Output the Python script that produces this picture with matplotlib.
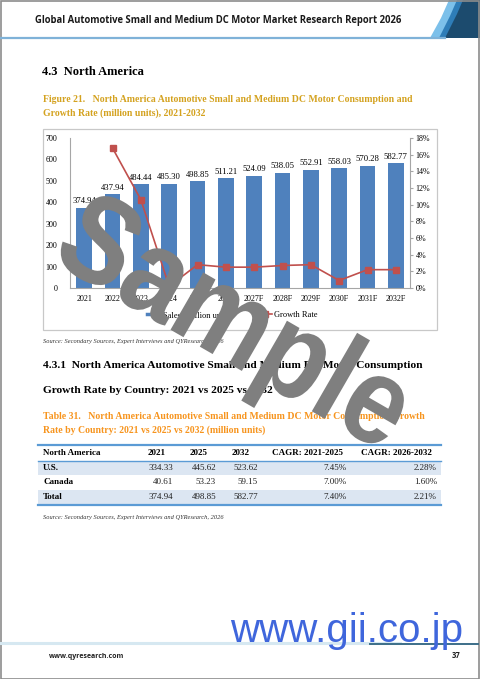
import matplotlib as mpl
mpl.use("Agg")
import matplotlib.pyplot as plt
from matplotlib.patches import Rectangle, Polygon, PathPatch
from matplotlib.lines import Line2D
from matplotlib.ticker import FuncFormatter
from matplotlib.textpath import TextPath
from matplotlib.font_manager import FontProperties
from matplotlib.transforms import Affine2D
import numpy as np

# =============================================================================
# 0) Data
# =============================================================================
years = ["2021", "2022", "2023", "2024", "2025", "2026",
         "2027F", "2028F", "2029F", "2030F", "2031F", "2032F"]
sales = [374.94, 437.94, 484.44, 485.30, 498.85, 511.21,
         524.09, 538.05, 552.91, 558.03, 570.28, 582.77]
growth = [np.nan, 16.8, 10.6, 0.2, 2.8, 2.5, 2.5, 2.7, 2.8, 0.9, 2.2, 2.2]

tbl_cols = ["North America", "2021", "2025", "2032", "CAGR: 2021-2025", "CAGR: 2026-2032"]
tbl_rows = ["U.S.", "Canada", "Total"]
tbl_2021 = ["334.33", "40.61", "374.94"]
tbl_2025 = ["445.62", "53.23", "498.85"]
tbl_2032 = ["523.62", "59.15", "582.77"]
tbl_cagr1 = ["7.45%", "7.00%", "7.40%"]
tbl_cagr2 = ["2.28%", "1.60%", "2.21%"]

# =============================================================================
# 1) Style
# =============================================================================
W, H = 480, 679
SERIF = "Liberation Serif"
BAR_COLOR = "#4F81BD"
LINE_COLOR = "#C0504D"
GOLD = "#D4A21F"
ORANGE = "#F7941D"
TBL_BLUE = "#5B9BD5"
TBL_FILL = "#DCE6F2"

fig = plt.figure(figsize=(W / 100, H / 100), dpi=100)


def fx(x):
    return x / W


def fy(y):
    return 1 - y / H


def txt(x, y, s, **kw):
    kw.setdefault("va", "center")
    return fig.text(fx(x), fy(y), s, **kw)


def hline(x0, x1, y, **kw):
    fig.add_artist(Line2D([fx(x0), fx(x1)], [fy(y), fy(y)], transform=fig.transFigure, **kw))


def rect(x0, y0, x1, y1, **kw):
    fig.add_artist(Rectangle((fx(x0), fy(y1)), fx(x1) - fx(x0), fy(y0) - fy(y1),
                             transform=fig.transFigure, **kw))


def poly(pts, **kw):
    fig.add_artist(Polygon([(fx(a), fy(b)) for a, b in pts], closed=True,
                           transform=fig.transFigure, **kw))


# =============================================================================
# 2) Page header / footer
# =============================================================================
txt(35, 21, "Global Automotive Small and Medium DC Motor Market Research Report 2026",
    family="Open Sans", weight="bold", fontsize=6.85, color="#1a1a1a")
hline(0, 445, 38, color="#7FB2D8", lw=1.6)
poly([(430, 38), (441, 18), (449, 0), (480, 0), (480, 38)], color="#7CC0EA", lw=0)
poly([(439, 38), (450, 16), (457, 0), (480, 0), (480, 38)], color="#2E7DB8", lw=0)
poly([(445, 38), (457, 14), (463, 0), (480, 0), (480, 38)], color="#1C4B6E", lw=0)

hline(0, 400, 643, color="#D6E8F1", lw=2.2)
hline(370, 478, 643.5, color="#3C6E88", lw=1.4)
txt(49, 657, "www.qyresearch.com", family="Open Sans", weight="bold", fontsize=5.0, color="#222222")
txt(452, 656, "37", family="Open Sans", weight="bold", fontsize=5.5, color="#222222")

# headings and captions
txt(42, 72, "4.3  North America", family=SERIF, weight="bold", fontsize=9.0)
txt(43, 99, "Figure 21.   North America Automotive Small and Medium DC Motor Consumption and",
    family=SERIF, weight="bold", fontsize=7.0, color=GOLD)
txt(43, 113, "Growth Rate (million units), 2021-2032",
    family=SERIF, weight="bold", fontsize=7.0, color=GOLD)

# =============================================================================
# 3) Chart
# =============================================================================
rect(43, 129, 437, 330, fill=False, edgecolor="#C8C8C8", lw=0.9)

ax = fig.add_axes([fx(70), fy(288), fx(410) - fx(70), fy(138) - fy(288)])
x = np.arange(len(years))
ax.bar(x, sales, width=0.56, color=BAR_COLOR, zorder=2)
for xi, v in zip(x, sales):
    ax.text(xi, v + 12, f"{v:.2f}", ha="center", va="bottom", family=SERIF, fontsize=6.2)

ax.set_xlim(-0.5, len(years) - 0.5)
ax.set_ylim(0, 700)
ax.set_yticks(range(0, 701, 100))
ax.set_xticks(x)
ax.set_xticklabels(years)
ax.tick_params(axis="x", length=0, pad=5, labelsize=5.8)
ax.tick_params(axis="y", length=0, pad=9, labelsize=5.8)
for lab in ax.get_xticklabels() + ax.get_yticklabels():
    lab.set_family(SERIF)
for s in ["top", "right"]:
    ax.spines[s].set_visible(False)
ax.spines["left"].set_color("#A6A6A6")
ax.spines["bottom"].set_color("#A6A6A6")
ax.spines["left"].set_linewidth(0.8)
ax.spines["bottom"].set_linewidth(0.8)

ax2 = ax.twinx()
ax2.plot(x, growth, color=LINE_COLOR, lw=1.2, marker="s", markersize=4.2, zorder=4)
ax2.set_ylim(0, 18)
ax2.set_yticks(range(0, 19, 2))
ax2.yaxis.set_major_formatter(FuncFormatter(lambda v, p: f"{int(v)}%"))
ax2.tick_params(axis="y", length=2, pad=2, labelsize=5.8, color="#A6A6A6")
for lab in ax2.get_yticklabels():
    lab.set_family(SERIF)
for s in ["top", "left", "bottom"]:
    ax2.spines[s].set_visible(False)
ax2.spines["right"].set_color("#A6A6A6")
ax2.spines["right"].set_linewidth(0.8)

handles = [Line2D([], [], color=BAR_COLOR, lw=2.5),
           Line2D([], [], color=LINE_COLOR, lw=1.2, marker="s", markersize=4)]
fig.legend(handles, ["Sales (million units)", "Growth Rate"], loc="center",
           bbox_to_anchor=(fx(232), fy(315)), ncol=2, frameon=False,
           prop={"family": SERIF, "size": 6}, handlelength=1.8, handletextpad=0.2,
           columnspacing=3.0)

txt(43, 341, "Source: Secondary Sources, Expert Interviews and QYResearch, 2026",
    family=SERIF, style="italic", fontsize=4.6, color="#333333")

# =============================================================================
# 4) Table section
# =============================================================================
txt(43, 366, "4.3.1  North America Automotive Small and Medium DC Motor Consumption",
    family=SERIF, weight="bold", fontsize=8.2)
txt(43, 391, "Growth Rate by Country: 2021 vs 2025 vs 2032",
    family=SERIF, weight="bold", fontsize=8.2)
txt(43, 416, "Table 31.   North America Automotive Small and Medium DC Motor Consumption Growth",
    family=SERIF, weight="bold", fontsize=7.0, color=ORANGE)
txt(43, 430, "Rate by Country: 2021 vs 2025 vs 2032 (million units)",
    family=SERIF, weight="bold", fontsize=7.0, color=ORANGE)

rect(38, 461, 441, 475, color=TBL_FILL, lw=0)
rect(38, 490, 441, 504, color=TBL_FILL, lw=0)
hline(38, 441, 445, color=TBL_BLUE, lw=1.6)
hline(38, 441, 461, color=TBL_BLUE, lw=1.0)
hline(38, 441, 505, color=TBL_BLUE, lw=1.6)

hdr_x = [43, 157, 199, 241, 307, 396]
hdr_ha = ["left", "center", "center", "center", "center", "center"]
for s, hx, ha in zip(tbl_cols, hdr_x, hdr_ha):
    txt(hx, 453, s, family=SERIF, weight="bold", fontsize=6.5, ha=ha)

row_y = [468, 482, 497]
val_x = [173, 216, 258, 347, 437]
for i, ry in enumerate(row_y):
    txt(43, ry, tbl_rows[i], family=SERIF, weight="bold", fontsize=6.5)
    vals = [tbl_2021[i], tbl_2025[i], tbl_2032[i], tbl_cagr1[i], tbl_cagr2[i]]
    for v, vx in zip(vals, val_x):
        txt(vx, ry, v, family=SERIF, fontsize=6.5, ha="right", color="#222222")

txt(43, 518, "Source: Secondary Sources, Expert Interviews and QYResearch, 2026",
    family=SERIF, style="italic", fontsize=4.6, color="#333333")

# =============================================================================
# 5) Watermarks + page frame
# =============================================================================
# "Sample" watermark: bold, slightly condensed, rotated
wm = TextPath((0, 0), "Sample", size=125,
              prop=FontProperties(family="Liberation Sans", weight="bold"))
bb = wm.get_extents()
wm_tr = (Affine2D().translate(-(bb.x0 + bb.x1) / 2, 0).scale(0.87, 1.0)
         .rotate_deg(-30).translate(216, H - 356))
fig.add_artist(PathPatch(wm, transform=wm_tr, facecolor="#7F7F7F", edgecolor="none",
                         zorder=10))

fig.text(fx(230), fy(642), "www.gii.co.jp", family="Liberation Sans", fontsize=29,
         color="#3F66DC", ha="left", va="baseline", zorder=10)

rect(0.5, 0.5, W - 0.5, H - 0.5, fill=False, edgecolor="#8C8C8C", lw=1.2)

fig.savefig("out.png", dpi=100)
plt.close(fig)
